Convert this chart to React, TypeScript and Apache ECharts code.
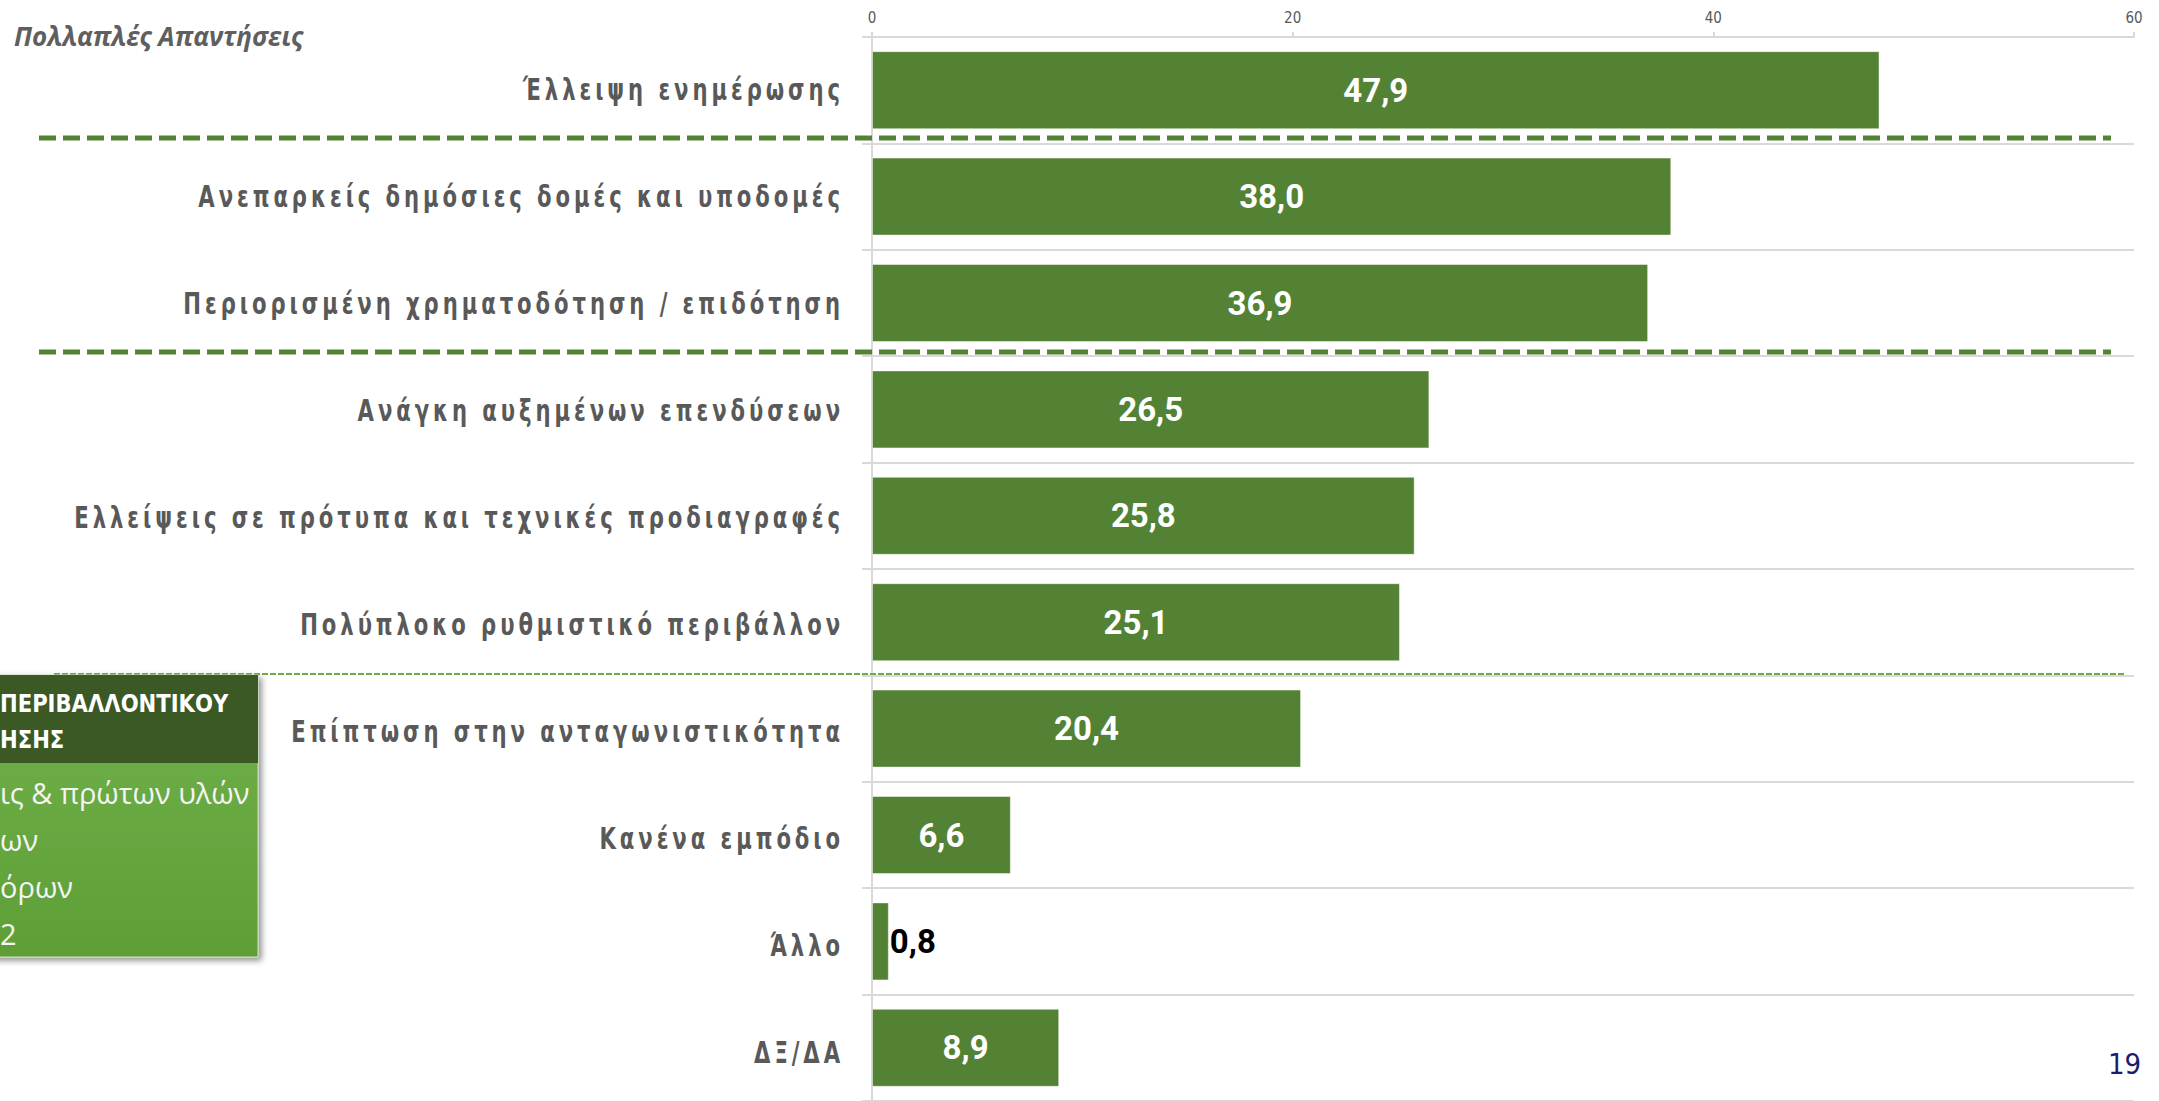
import React, { useEffect, useRef } from "react";
import * as echarts from "echarts";

const categories = [
  "Έλλειψη ενημέρωσης",
  "Ανεπαρκείς δημόσιες δομές και υποδομές",
  "Περιορισμένη χρηματοδότηση / επιδότηση",
  "Ανάγκη αυξημένων επενδύσεων",
  "Ελλείψεις σε πρότυπα και τεχνικές προδιαγραφές",
  "Πολύπλοκο ρυθμιστικό περιβάλλον",
  "Επίπτωση στην ανταγωνιστικότητα",
  "Κανένα εμπόδιο",
  "Άλλο",
  "ΔΞ/ΔΑ",
];
const values = [47.9, 38.0, 36.9, 26.5, 25.8, 25.1, 20.4, 6.6, 0.8, 8.9];
const axisMin = 0;
const axisMax = 60;
const axisInterval = 20;
const subtitle = "Πολλαπλές Απαντήσεις";
const boxHeader = ["ΠΕΡΙΒΑΛΛΟΝΤΙΚΟΥ", "ΗΣΗΣ"];
const boxLines = ["ις & πρώτων υλών", "ων", "όρων", "2"];
const pageNumber = "19";
// rows after which separator lines are drawn
const thickSeparators = [1, 3];
const thinSeparators = [6];

const NARROW = '"Liberation Sans Narrow", "Arial Narrow", "DejaVu Sans Condensed", "Liberation Sans", sans-serif';

const W = 2159;
const H = 1101;
const GRID_LEFT = 872;
const GRID_TOP = 37;
const GRID_W = 1262;
const GRID_H = 1070;
const BAND = GRID_H / categories.length;

const fmt = (v: number) => v.toFixed(1).replace(".", ",");

export default function App() {
  const ref = useRef<HTMLDivElement>(null);

  useEffect(() => {
    if (!ref.current) return;
    const chart = echarts.init(ref.current, undefined, { renderer: "svg" });

    const seriesData = values.map((v) =>
      v < 3
        ? {
            value: v,
            label: { position: "right", distance: 1, color: "#000000" },
          }
        : v
    );

    const graphics: any[] = [];

    // category labels (condensed, letter-spaced)
    categories.forEach((c, i) => {
      graphics.push({
        type: "text",
        z: 40,
        x: GRID_LEFT - 28,
        y: GRID_TOP + (i + 0.5) * BAND - 1,
        scaleX: 0.785,
        style: {
          text: c,
          fontSize: 30,
          fontWeight: "bold",
          fontFamily: NARROW,
          fill: "#595959",
          align: "right",
          verticalAlign: "middle",
        },
      });
    });

    thickSeparators.forEach((k) => {
      const y = Math.round(GRID_TOP + k * BAND - 6);
      graphics.push({
        type: "line",
        z: 50,
        shape: { x1: 39, y1: y, x2: 2111, y2: y },
        style: { stroke: "#548235", lineWidth: 5, lineDash: [17, 7] },
      });
    });
    thinSeparators.forEach((k) => {
      const y = Math.round(GRID_TOP + k * BAND - 5);
      graphics.push({
        type: "line",
        z: 50,
        shape: { x1: 54, y1: y, x2: 2124, y2: y },
        style: { stroke: "#70ad47", lineWidth: 2, lineDash: [6, 2] },
      });
    });

    // subtitle
    graphics.push({
      type: "text",
      x: 14,
      y: 36,
      z: 60,
      style: {
        text: subtitle,
        fontSize: 26,
        fontStyle: "italic",
        fontWeight: "bold",
        fontFamily: '"Open Sans", "Noto Sans", sans-serif',
        fill: "#5f5f5f",
        verticalAlign: "middle",
        align: "left",
      },
    });

    // side box (partially visible)
    const boxTop = 675;
    const boxBottom = 957;
    const headerBottom = 763;
    graphics.push({
      type: "rect",
      z: 70,
      shape: { x: -10, y: boxTop, width: 268, height: boxBottom - boxTop },
      style: {
        fill: new echarts.graphic.LinearGradient(0, 0, 0, 1, [
          { offset: 0, color: "#72b24c" },
          { offset: 1, color: "#5e9e36" },
        ]),
        stroke: "#c9dcbc",
        lineWidth: 1,
        shadowBlur: 6,
        shadowOffsetX: 3,
        shadowOffsetY: 3,
        shadowColor: "rgba(0,0,0,0.45)",
      },
    });
    graphics.push({
      type: "rect",
      z: 71,
      shape: { x: -10, y: boxTop, width: 268, height: headerBottom - boxTop },
      style: { fill: "#3a5925" },
    });
    boxHeader.forEach((t, i) => {
      graphics.push({
        type: "text",
        z: 72,
        x: 0,
        y: 703 + i * 36,
        scaleX: 0.94,
        style: {
          text: t,
          fontSize: 25,
          fontWeight: "bold",
          fontFamily: NARROW,
          fill: "#ffffff",
          verticalAlign: "middle",
          align: "left",
        },
      });
    });
    boxLines.forEach((t, i) => {
      graphics.push({
        type: "text",
        z: 72,
        x: 0,
        y: 792 + i * 47,
        style: {
          text: t,
          fontSize: 29,
          fontFamily: '"Open Sans", "Noto Sans", sans-serif',
          fill: "#f4f4f4",
          verticalAlign: "middle",
          align: "left",
        },
      });
    });

    // page number
    graphics.push({
      type: "text",
      z: 60,
      x: 2108,
      y: 1064,
      style: {
        text: pageNumber,
        fontSize: 29,
        fontFamily: NARROW,
        fill: "#1b1b74",
        verticalAlign: "middle",
        align: "left",
      },
    });

    chart.setOption({
      animation: false,
      backgroundColor: "#ffffff",
      grid: { left: GRID_LEFT, top: GRID_TOP, width: GRID_W, height: GRID_H },
      xAxis: {
        type: "value",
        position: "top",
        min: axisMin,
        max: axisMax,
        interval: axisInterval,
        axisLine: { show: true, lineStyle: { color: "#d9d9d9", width: 2 } },
        axisTick: { show: true, length: 5, lineStyle: { color: "#d9d9d9", width: 2 } },
        splitLine: { show: false },
        axisLabel: { color: "#595959", fontSize: 15, fontFamily: NARROW, margin: 12 },
      },
      yAxis: {
        type: "category",
        inverse: true,
        data: categories,
        axisLine: { show: true, lineStyle: { color: "#d9d9d9", width: 2 } },
        axisTick: { show: true, length: 10, lineStyle: { color: "#d9d9d9", width: 2 } },
        splitLine: { show: true, lineStyle: { color: "#d9d9d9", width: 2 } },
        axisLabel: { show: false },
      },
      series: [
        {
          type: "bar",
          data: seriesData,
          barWidth: 78,
          itemStyle: {
            color: "#548235",
            borderColor: "rgba(255,255,255,0.45)",
            borderWidth: 1,
          },
          label: {
            show: true,
            position: "inside",
            color: "#ffffff",
            fontSize: 33,
            fontWeight: "bold",
            fontFamily: 'Roboto, "Liberation Sans", sans-serif',
            formatter: (p: any) => fmt(Number(p.value)),
          },
        },
      ],
      graphic: graphics,
    });

    return () => chart.dispose();
  }, []);

  return (
    <>
      <style>{`.cat-chart text[text-anchor="end"] { letter-spacing: 5px; }`}</style>
      <div
        ref={ref}
        className="cat-chart"
        style={{ position: "fixed", left: 0, top: 0, width: W, height: H }}
      />
    </>
  );
}
